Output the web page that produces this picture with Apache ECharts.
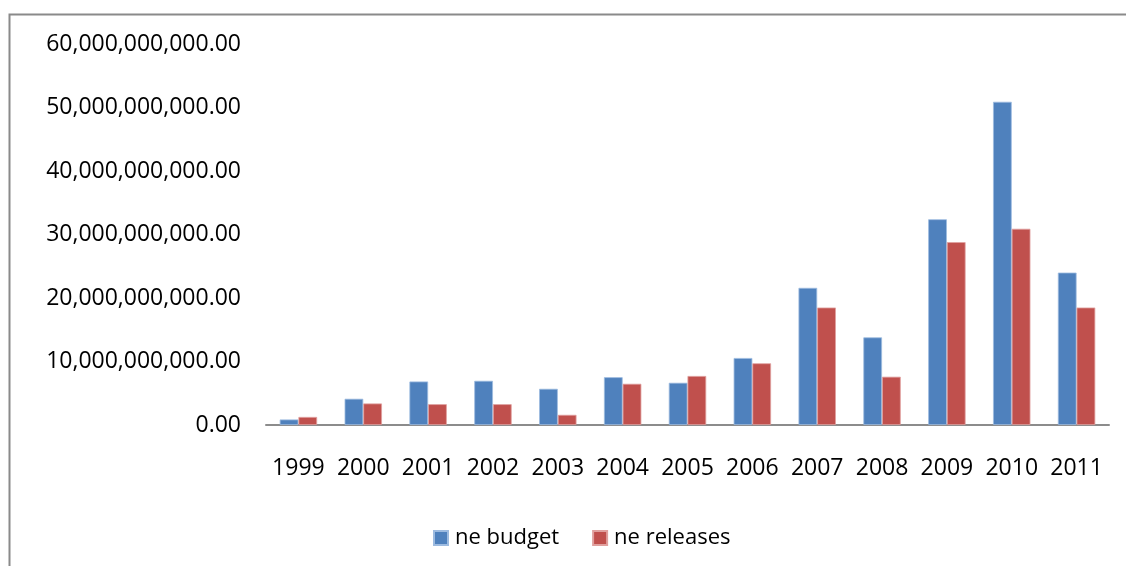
<!DOCTYPE html>
<html>
<head>
<meta charset="utf-8">
<script src="https://cdn.jsdelivr.net/npm/echarts@6/dist/echarts.min.js"></script>
<style>
  html, body { margin: 0; padding: 0; background: #fff; }
  #chart { width: 1126px; height: 566px; }
</style>
</head>
<body>
<div id="chart"></div>
<script>
// Years on the category axis
const years = ['1999', '2000', '2001', '2002', '2003', '2004', '2005', '2006', '2007', '2008', '2009', '2010', '2011'];
// Budget per year
const budget = [0.87e9, 4.13e9, 6.85e9, 6.96e9, 5.7e9, 7.53e9, 6.65e9, 10.55e9, 21.6e9, 13.8e9, 32.4e9, 50.9e9, 24.0e9];
// Releases per year
const releases = [1.27e9, 3.39e9, 3.28e9, 3.28e9, 1.6e9, 6.49e9, 7.72e9, 9.72e9, 18.5e9, 7.6e9, 28.8e9, 30.9e9, 18.5e9];
// Value axis ticks
const yMin = 0, yMax = 60e9, yStep = 10e9;

const FONT = 'Open Sans';
const FS = 23;

function fmt(v) {
  const s = Math.round(v).toString().replace(/\B(?=(\d{3})+(?!\d))/g, ',');
  return s + '.00';
}

const chart = echarts.init(document.getElementById('chart'));
chart.setOption({
  animation: false,
  backgroundColor: '#ffffff',
  textStyle: { fontFamily: FONT },
  grid: { left: 266, right: 17, top: 44, bottom: 141, containLabel: false },
  graphic: [
    { type: 'polyline', shape: { points: [[9.5, 566], [9.5, 14.5], [1126, 14.5]] },
      style: { stroke: '#8a8a8a', lineWidth: 2, fill: null }, silent: true }
  ],
  legend: {
    left: 428, top: 522,
    itemWidth: 14, itemHeight: 14, itemGap: 33,
    icon: 'rect',
    textStyle: { fontFamily: FONT, fontSize: 22, color: '#000', padding: [0, 0, 0, 2] },
    data: ['ne budget', 'ne releases']
  },
  xAxis: {
    type: 'category',
    data: years,
    axisLine: { lineStyle: { color: '#8c8c8c', width: 2 } },
    axisTick: { show: false },
    axisLabel: { fontFamily: FONT, fontSize: FS, color: '#000', margin: 32, interval: 0 }
  },
  yAxis: {
    type: 'value',
    min: yMin, max: yMax, interval: yStep,
    axisLine: { show: false },
    axisTick: { show: false },
    splitLine: { show: false },
    axisLabel: { fontFamily: FONT, fontSize: FS, color: '#000', margin: 25, formatter: fmt }
  },
  series: [
    { name: 'ne budget', type: 'bar', data: budget, barWidth: 18.7, barGap: '0%',
      itemStyle: { color: '#4F81BD', borderColor: '#9dbbe0', borderWidth: 0.8 } },
    { name: 'ne releases', type: 'bar', data: releases, barWidth: 18.7, barGap: '0%',
      itemStyle: { color: '#C0504D', borderColor: '#e0a09e', borderWidth: 0.8 } }
  ]
});
</script>
</body>
</html>
